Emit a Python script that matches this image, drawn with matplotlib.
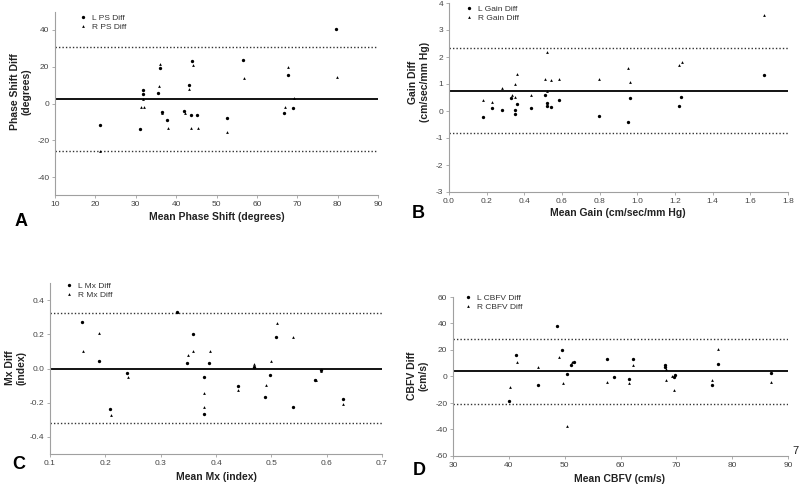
import matplotlib
matplotlib.use("Agg")
import matplotlib.pyplot as plt
from matplotlib.lines import Line2D

plt.rcParams['font.family'] = ['Liberation Sans', 'DejaVu Sans']

W, H = 800, 486

# ---------------- Panel A: Phase shift ----------------
ps_L_x = [21.2, 31.1, 31.8, 31.9, 35.5, 35.9, 36.4, 37.8, 42.0, 43.1, 43.8, 44.0, 45.1, 52.5, 56.6, 66.7, 67.6, 68.9, 79.7]
ps_L_y = [-11.5, -13.8, 5.3, 7.6, 5.8, 19.3, -4.7, -9.1, -4.2, 10.2, -6.5, 23.1, -6.5, -7.8, 23.6, -5.3, 15.6, -2.7, 40.7]
ps_R_x = [21.2, 31.2, 32.1, 31.7, 35.7, 36.0, 36.5, 38.0, 42.1, 43.3, 43.8, 44.1, 45.3, 52.6, 56.8, 66.9, 67.8, 69.1, 79.8]
ps_R_y = [-25.6, -2.0, -2.0, 2.5, 9.6, 21.6, -5.0, -13.6, -5.3, 7.8, -13.1, 20.7, -13.1, -15.6, 14.0, -2.0, 20.0, 2.9, 14.5]
ps_mean, ps_upper, ps_lower = 2.6, 30.9, -25.6

# ---------------- Panel B: Gain ----------------
gain_L_x = [0.179, 0.227, 0.282, 0.328, 0.349, 0.349, 0.360, 0.433, 0.511, 0.523, 0.523, 0.541, 0.583, 0.794, 0.951, 0.961, 1.220, 1.232, 1.672]
gain_L_y = [-0.235, 0.11, 0.04, 0.47, 0.04, -0.12, 0.26, 0.10, 0.59, 0.30, 0.19, 0.14, 0.40, -0.19, -0.41, 0.47, 0.17, 0.52, 1.32]
gain_R_x = [0.179, 0.229, 0.284, 0.333, 0.349, 0.349, 0.362, 0.433, 0.511, 0.523, 0.523, 0.544, 0.585, 0.794, 0.951, 0.963, 1.222, 1.236, 1.674]
gain_R_y = [0.41, 0.32, 0.87, 0.61, 0.51, 1.00, 1.37, 0.59, 1.20, 2.18, 0.75, 1.15, 1.20, 1.20, 1.58, 1.07, 1.71, 1.83, 3.55]
gain_mean, gain_upper, gain_lower = 0.75, 2.32, -0.83

# ---------------- Panel C: Mx ----------------
mx_L_x = [0.158, 0.188, 0.209, 0.240, 0.329, 0.348, 0.358, 0.378, 0.378, 0.388, 0.439, 0.468, 0.489, 0.498, 0.509, 0.539, 0.579, 0.589, 0.629]
mx_L_y = [0.27, 0.045, -0.236, -0.027, 0.33, 0.03, 0.20, -0.047, -0.264, 0.03, -0.105, 0.01, -0.166, -0.04, 0.183, -0.226, -0.068, -0.01, -0.18]
mx_R_x = [0.159, 0.189, 0.210, 0.241, 0.330, 0.349, 0.359, 0.379, 0.379, 0.389, 0.440, 0.469, 0.490, 0.499, 0.510, 0.540, 0.581, 0.590, 0.630]
mx_R_y = [0.10, 0.205, -0.272, -0.047, 0.33, 0.08, 0.10, -0.146, -0.224, 0.10, -0.125, 0.024, -0.097, 0.045, 0.264, 0.185, -0.068, -0.015, -0.21]
mx_mean, mx_upper, mx_lower = 0.0, 0.324, -0.318

# ---------------- Panel D: CBFV ----------------
cbfv_L_x = [40.1, 41.3, 45.2, 48.7, 49.6, 50.4, 51.1, 51.6, 57.5, 58.8, 61.5, 62.2, 68.0, 68.0, 69.5, 69.8, 76.4, 77.4, 86.9]
cbfv_L_y = [-18.8, 16.5, -6.7, 38.0, 20.1, 1.9, 9.0, 10.7, 13.3, -0.4, -2.1, 13.3, 8.5, 7.3, -0.4, 1.2, -6.7, 9.7, 2.9]
cbfv_R_x = [40.2, 41.4, 45.3, 48.9, 49.7, 50.5, 51.3, 57.6, 61.5, 62.3, 68.1, 68.1, 69.3, 69.6, 76.4, 77.5, 87.0]
cbfv_R_y = [-8.2, 10.7, 7.2, 14.5, -4.7, -37.3, 10.7, -3.9, -4.9, 8.5, 5.7, -2.4, 0.3, -10.5, -2.4, 20.8, -3.9]
cbfv_mean, cbfv_upper, cbfv_lower = 3.9, 28.4, -21.1

fig = plt.figure(figsize=(W / 100, H / 100), dpi=100)


def px_axes(x0, x1, y0, y1):
    return fig.add_axes([x0 / W, 1 - y1 / H, (x1 - x0) / W, (y1 - y0) / H])


def fx(x):
    return x / W


def fy(y):
    return 1 - y / H


panels = [
    dict(box=(55, 378, 11.6, 195.4), Lx=ps_L_x, Ly=ps_L_y, Rx=ps_R_x, Ry=ps_R_y,
         mean=ps_mean, up=ps_upper, lo=ps_lower,
         xlim=(10, 90), ylim=(-50, 50), xticks=list(range(10, 91, 10)), yticks=[-40, -20, 0, 20, 40],
         xfmt='{:.0f}', yfmt='{:.0f}',
         labels=('L PS Diff', 'R PS Diff'), leg=(80, 14),
         ylabel='Phase Shift Diff\n(degrees)', ylab_pos=(21, 92),
         xlabel='Mean Phase Shift (degrees)', xlab_pos=(216.5, 217),
         letter='A', letter_pos=(21, 221)),
    dict(box=(449, 788, 3, 192), Lx=gain_L_x, Ly=gain_L_y, Rx=gain_R_x, Ry=gain_R_y,
         mean=gain_mean, up=gain_upper, lo=gain_lower,
         xlim=(0, 1.8), ylim=(-3, 4), xticks=[0, 0.2, 0.4, 0.6, 0.8, 1.0, 1.2, 1.4, 1.6, 1.8], yticks=list(range(-3, 5)),
         xfmt='{:.1f}', yfmt='{:.0f}',
         labels=('L Gain Diff', 'R Gain Diff'), leg=(466, 5),
         ylabel='Gain Diff\n(cm/sec/mm Hg)', ylab_pos=(419, 82),
         xlabel='Mean Gain (cm/sec/mm Hg)', xlab_pos=(618, 213),
         letter='B', letter_pos=(418, 213)),
    dict(box=(50, 382, 283, 454), Lx=mx_L_x, Ly=mx_L_y, Rx=mx_R_x, Ry=mx_R_y,
         mean=mx_mean, up=mx_upper, lo=mx_lower,
         xlim=(0.1, 0.7), ylim=(-0.5, 0.5), xticks=[0.1, 0.2, 0.3, 0.4, 0.5, 0.6, 0.7], yticks=[-0.4, -0.2, 0.0, 0.2, 0.4],
         xfmt='{:.1f}', yfmt='{:.1f}',
         labels=('L Mx Diff', 'R Mx Diff'), leg=(66, 282),
         ylabel='Mx Diff\n(index)', ylab_pos=(16, 368),
         xlabel='Mean Mx (index)', xlab_pos=(216, 477),
         letter='C', letter_pos=(19, 464)),
    dict(box=(453, 788, 297, 456), Lx=cbfv_L_x, Ly=cbfv_L_y, Rx=cbfv_R_x, Ry=cbfv_R_y,
         mean=cbfv_mean, up=cbfv_upper, lo=cbfv_lower,
         xlim=(30, 90), ylim=(-60, 60), xticks=list(range(30, 91, 10)), yticks=list(range(-60, 61, 20)),
         xfmt='{:.0f}', yfmt='{:.0f}',
         labels=('L CBFV Diff', 'R CBFV Diff'), leg=(465, 294),
         ylabel='CBFV Diff\n(cm/s)', ylab_pos=(418, 376),
         xlabel='Mean CBFV (cm/s)', xlab_pos=(620, 479),
         letter='D', letter_pos=(419, 470)),
]

for p in panels:
    ax = px_axes(*p['box'])
    ax.set_xlim(*p['xlim'])
    ax.set_ylim(*p['ylim'])
    ax.axhline(p['mean'], color='black', lw=1.3, zorder=2)
    ax.axhline(p['up'], color='#333333', lw=1.0, ls=(0, (1, 1.5)), zorder=2)
    ax.axhline(p['lo'], color='#333333', lw=1.0, ls=(0, (1, 1.5)), zorder=2)
    ax.plot(p['Lx'], p['Ly'], 'o', color='black', ms=2.4, mew=0, zorder=3)
    ax.plot(p['Rx'], p['Ry'], '^', color='black', ms=2.0, mew=0, zorder=3)
    for s in ('top', 'right'):
        ax.spines[s].set_visible(False)
    for s in ('left', 'bottom'):
        ax.spines[s].set_color('#a0a0a0')
        ax.spines[s].set_linewidth(0.8)
    ax.set_xticks(p['xticks'])
    ax.set_xticklabels([p['xfmt'].format(v) for v in p['xticks']])
    ax.set_yticks(p['yticks'])
    ax.set_yticklabels([p['yfmt'].format(v) for v in p['yticks']])
    ax.tick_params(axis='both', length=2, width=0.6, color='#a0a0a0', labelsize=6,
                   labelcolor='#444444', pad=2)
    ax.patch.set_alpha(0)

    handles = [Line2D([], [], marker='o', ls='none', color='black', ms=2.4, mew=0),
               Line2D([], [], marker='^', ls='none', color='black', ms=2.0, mew=0)]
    ax.legend(handles, p['labels'], loc='upper left',
              bbox_to_anchor=(fx(p['leg'][0]), fy(p['leg'][1])), bbox_transform=fig.transFigure,
              frameon=False, fontsize=6, handlelength=0.8, handletextpad=0.6,
              labelspacing=0.15, borderpad=0, borderaxespad=0, labelcolor='#333333')

    fig.text(fx(p['ylab_pos'][0]), fy(p['ylab_pos'][1]), p['ylabel'], rotation=90,
             ha='center', va='center', multialignment='center',
             fontsize=7.5, fontweight='bold', color='#222222', linespacing=1.15)
    fig.text(fx(p['xlab_pos'][0]), fy(p['xlab_pos'][1]), p['xlabel'],
             ha='center', va='center', fontsize=7.5, fontweight='bold', color='#222222')
    fig.text(fx(p['letter_pos'][0]), fy(p['letter_pos'][1]), p['letter'],
             ha='center', va='center', fontsize=13, fontweight='bold', color='black')

fig.text(fx(792), fy(451), '7', ha='left', va='center', fontsize=8, color='#222222')

fig.savefig('out.png', dpi=100)
